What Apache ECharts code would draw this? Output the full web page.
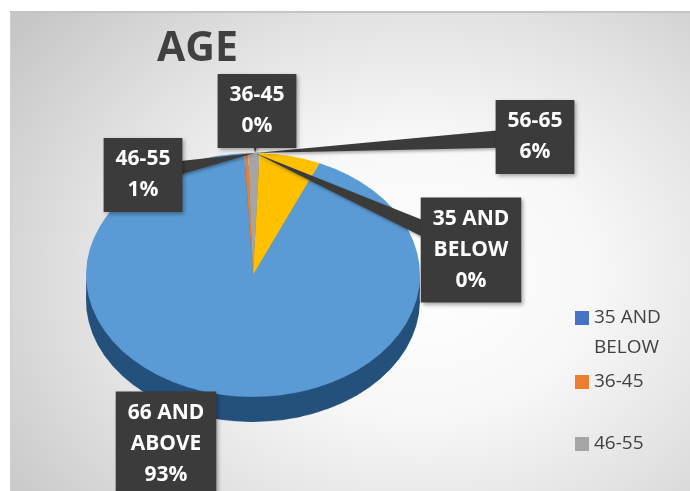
<!DOCTYPE html>
<html>
<head>
<meta charset="utf-8">
<script src="https://cdn.jsdelivr.net/npm/echarts@6/dist/echarts.min.js"></script>
<style>
  html, body { margin: 0; padding: 0; background: #ffffff; }
  #frame { position: absolute; left: 10px; top: 11px; width: 680px; height: 480px;
    border-top: 2px solid #c4c4c4; border-left: 1px solid #d0d0d0; box-sizing: border-box;
    background: radial-gradient(ellipse 75% 85% at 60% 55%, #ffffff 0%, #f7f7f7 35%, #e2e2e2 65%, #c6c6c6 100%); }
  #pie3d { position: absolute; left: 0; top: 0; width: 690px; height: 680px;
    transform: scaleY(0.73); transform-origin: 0 0; }
  #overlay { position: absolute; left: 0; top: 0; width: 690px; height: 491px; }
</style>
</head>
<body>
<div id="frame"></div>
<div id="pie3d"></div>
<div id="overlay"></div>
<script>
// ---- data ----
const categories = ['35 AND BELOW', '36-45', '46-55', '56-65', '66 AND ABOVE'];
const values = [0, 1, 3, 16, 252];
const topColors = ['#4472C4', '#ED7D31', '#A5A5A5', '#FFC000', '#5B9BD5'];
const sideColors = ['#2c4d86', '#a8561f', '#707070', '#b38700', '#24507c'];
const labelText = ['35 AND\nBELOW', '36-45', '46-55', '56-65', '66 AND\nABOVE'];
const legendNames = ['35 AND BELOW', '36-45', '46-55'];

// ---- 3D-looking pie (scaled vertically via CSS) ----
const SY = 0.73;
const cx = 253, cy = 275, r = 167, depth = 25;
const pieChart = echarts.init(document.getElementById('pie3d'), null, { renderer: 'canvas' });
function pieData(colors) {
  return categories.map((c, i) => ({ name: c, value: values[i], itemStyle: { color: colors[i] } }));
}
pieChart.setOption({
  animation: false,
  series: [
    { type: 'pie', center: [cx, (cy + depth) / SY], radius: r, startAngle: 93, silent: true,
      label: { show: false }, labelLine: { show: false }, data: pieData(sideColors) },
    { type: 'pie', center: [cx, (cy + depth * 0.5) / SY], radius: r, startAngle: 93, silent: true,
      label: { show: false }, labelLine: { show: false }, data: pieData(sideColors) },
    { type: 'pie', center: [cx, cy / SY], radius: r, startAngle: 93, silent: true,
      label: { show: false }, labelLine: { show: false }, data: pieData(topColors) }
  ]
});

// ---- overlay: title, legend, callout labels ----
const apex = [255, 153];
const labelPos = {
  '35 AND BELOW': [471, 250],
  '36-45': [257, 111],
  '46-55': [143, 175],
  '56-65': [535, 137],
  '66 AND ABOVE': [166, 444]
};
// wedge-shaped callout pointers from each label box to the pie's top point
const wedges = categories.slice(0, 4).map(c => {
  const p = labelPos[c];
  const dx = p[0] - apex[0], dy = p[1] - apex[1];
  const len = Math.sqrt(dx * dx + dy * dy) || 1;
  const w = 10;
  const nx = -dy / len * w, ny = dx / len * w;
  return {
    type: 'polygon', z: 1, silent: true,
    shape: { points: [apex, [p[0] + nx, p[1] + ny], [p[0] - nx, p[1] - ny]] },
    style: { fill: '#3b3b3b', shadowColor: 'rgba(0,0,0,0.3)', shadowBlur: 3, shadowOffsetX: 1, shadowOffsetY: 2 }
  };
});

const chart = echarts.init(document.getElementById('overlay'));
const legendText = { color: '#404040', fontSize: 19, fontFamily: 'Open Sans', lineHeight: 30 };
function legendItem(i) {
  return { name: legendNames[i], itemStyle: { color: topColors[i], opacity: 1 } };
}
const legendCommon = {
  orient: 'vertical', left: 570, icon: 'rect', itemWidth: 14, itemHeight: 14, itemGap: 0,
  selectedMode: false, textStyle: legendText
};
chart.setOption({
  animation: false,
  title: { text: 'AGE', left: 152, top: 24,
    textStyle: { fontFamily: 'Open Sans', fontWeight: 'bold', fontSize: 41, color: '#404040' } },
  legend: [
    Object.assign({}, legendCommon, { top: 268, data: [legendItem(0)],
      formatter: () => '\n35 AND\nBELOW' }),
    Object.assign({}, legendCommon, { top: 362, data: [legendItem(1)] }),
    Object.assign({}, legendCommon, { top: 424, data: [legendItem(2)] })
  ],
  graphic: wedges,
  series: [{
    type: 'pie', center: apex, radius: 0.5, startAngle: 93, silent: true, z: 3,
    itemStyle: { color: 'rgba(0,0,0,0)' },
    label: {
      show: true,
      formatter: p => labelText[p.dataIndex] + '\n' + Math.round(p.percent) + '%',
      color: '#ffffff', fontFamily: 'Open Sans', fontWeight: 'bold', fontSize: 21,
      lineHeight: 31, align: 'center',
      backgroundColor: '#3b3b3b', padding: [6, 12],
      shadowColor: 'rgba(0,0,0,0.35)', shadowBlur: 4, shadowOffsetX: 2, shadowOffsetY: 2
    },
    labelLine: { show: false },
    labelLayout: function (params) {
      const p = labelPos[categories[params.dataIndex]];
      return { x: p[0], y: p[1], align: 'center', verticalAlign: 'middle' };
    },
    data: categories.map((c, i) => ({ name: c, value: values[i] }))
  }]
});
</script>
</body>
</html>
